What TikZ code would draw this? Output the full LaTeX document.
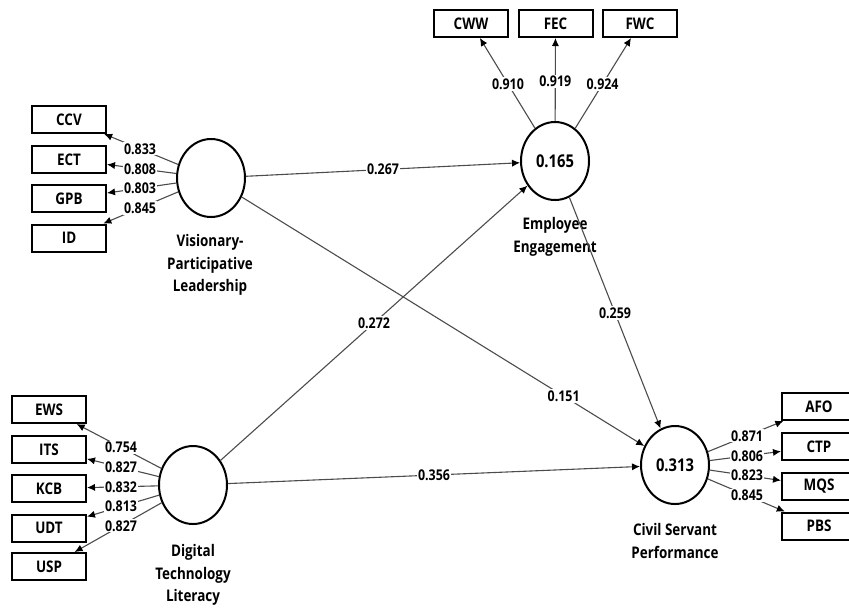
\documentclass[tikz,border=0pt]{standalone}
\usepackage{fontspec}
\setmainfont{Open Sans}[FakeStretch=0.84]
\usetikzlibrary{
	arrows.meta,
	calc,
	shapes.geometric,
}
\tikzset{
	ind/.style={draw, line width=1pt, minimum width=37pt, minimum height=13.5pt, inner sep=0pt, font=\fontsize{8}{9}\selectfont\bfseries},
	lv/.style={draw, ellipse, line width=1pt, minimum width=34pt, minimum height=39pt, inner sep=0pt, font=\fontsize{8.8}{10}\selectfont\bfseries},
	lvname/.style={align=center, font=\fontsize{8}{11.25}\selectfont\bfseries},
	link/.style={draw=black!70, line width=0.55pt, -{Latex[length=4pt,width=3.6pt,color=black]}},
	coef/.style={fill=white, inner sep=0.6pt, font=\fontsize{7.4}{8}\selectfont\bfseries},
}

\begin{document}
\begin{tikzpicture}[x=0.5pt,y=-0.5pt]
				\useasboundingbox (0,0) rectangle (849,607);
				\node[lv] (VPL) at (211,178) {};
				\node[lv] (EE) at (555,161) {0.165};
				\node[lv] (DTL) at (193,485) {};
				\node[lv] (CSP) at (675,465) {0.313};
				\node[lvname] at (210,265) {Visionary-\\Participative\\Leadership};
				\node[lvname] at (555,237) {Employee\\Engagement};
				\node[lvname] at (193,575) {Digital\\Technology\\Literacy};
				\node[lvname] at (675,541) {Civil Servant\\Performance};
				\node[ind] (CCV) at (69,119.5) {CCV};
				\node[ind] (ECT) at (69,159.5) {ECT};
				\node[ind] (GPB) at (69,198.5) {GPB};
				\node[ind] (ID) at (69,238) {ID};
				\node[ind] (CWW) at (471,23.5) {CWW};
				\node[ind] (FEC) at (555.5,23.5) {FEC};
				\node[ind] (FWC) at (640,23.5) {FWC};
				\node[ind] (EWS) at (49,409.5) {EWS};
				\node[ind] (ITS) at (49,449.5) {ITS};
				\node[ind] (KCB) at (49,488.5) {KCB};
				\node[ind] (UDT) at (49,528) {UDT};
				\node[ind] (USP) at (49,566.5) {USP};
				\node[ind] (AFO) at (819,406.5) {AFO};
				\node[ind] (CTP) at (819,446.5) {CTP};
				\node[ind] (MQS) at (819,486) {MQS};
				\node[ind] (PBS) at (819,526) {PBS};
				\draw[link] (VPL) -- (CCV);
				\draw[link] (VPL) -- (ECT);
				\draw[link] (VPL) -- (GPB);
				\draw[link] (VPL) -- (ID);
				\draw[link] (EE) -- (CWW);
				\draw[link] (EE) -- (FEC);
				\draw[link] (EE) -- (FWC);
				\draw[link] (DTL) -- (EWS);
				\draw[link] (DTL) -- (ITS);
				\draw[link] (DTL) -- (KCB);
				\draw[link] (DTL) -- (UDT);
				\draw[link] (DTL) -- (USP);
				\draw[link] (CSP) -- (AFO);
				\draw[link] (CSP) -- (CTP);
				\draw[link] (CSP) -- (MQS);
				\draw[link] (CSP) -- (PBS);
				\draw[link] (VPL) -- (EE);
				\draw[link] (VPL) -- (CSP);
				\draw[link] (DTL) -- (EE);
				\draw[link] (DTL) -- (CSP);
				\draw[link] (EE) -- (CSP);
				\node[coef] at ($(VPL)!.5!(CCV)$) {0.833};
				\node[coef] at ($(VPL)!.5!(ECT)$) {0.808};
				\node[coef] at ($(VPL)!.5!(GPB)$) {0.803};
				\node[coef] at ($(VPL)!.5!(ID)$) {0.845};
				\node[coef] at ($(EE)!.56!(CWW)$) {0.910};
				\node[coef] at ($(EE)!.58!(FEC)$) {0.919};
				\node[coef] at ($(EE)!.56!(FWC)$) {0.924};
				\node[coef] at ($(DTL)!.5!(EWS)$) {0.754};
				\node[coef] at ($(DTL)!.5!(ITS)$) {0.827};
				\node[coef] at ($(DTL)!.5!(KCB)$) {0.832};
				\node[coef] at ($(DTL)!.5!(UDT)$) {0.813};
				\node[coef] at ($(DTL)!.5!(USP)$) {0.827};
				\node[coef] at ($(CSP)!.5!(AFO)$) {0.871};
				\node[coef] at ($(CSP)!.5!(CTP)$) {0.806};
				\node[coef] at ($(CSP)!.5!(MQS)$) {0.823};
				\node[coef] at ($(CSP)!.5!(PBS)$) {0.845};
				\node[coef] at ($(VPL)!.5!(EE)$) {0.267};
				\node[coef] at ($(VPL)!.76!(CSP)$) {0.151};
				\node[coef] at ($(DTL)!.5!(EE)$) {0.272};
				\node[coef] at ($(DTL)!.5!(CSP)$) {0.356};
				\node[coef] at ($(EE)!.5!(CSP)$) {0.259};
			\end{tikzpicture}
\end{document}
